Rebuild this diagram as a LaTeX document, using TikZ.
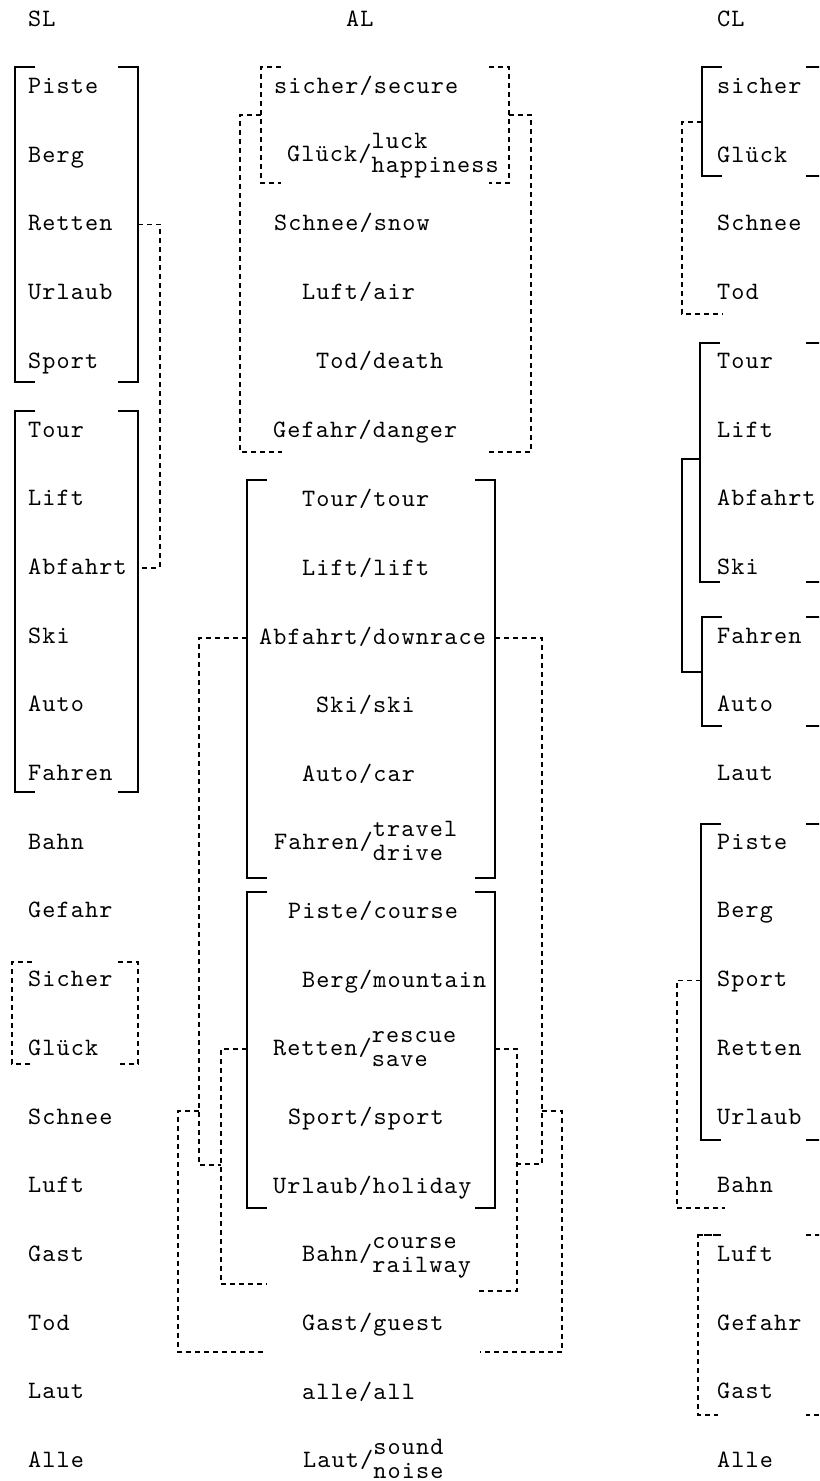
\documentclass[tikz,border=0pt]{standalone}
\usepackage{fontspec}
\setmonofont{lmmono10-regular.otf}[LetterSpace=4.5]
\tikzset{
  word/.style={anchor=west, inner sep=0pt, text height=17bp, text depth=4bp,
    font=\ttfamily\fontsize{25bp}{24bp}\selectfont},
  hard/.style={line width=1.6bp},
  soft/.style={line width=1.2bp, dash pattern=on 5bp off 4bp},
}
% two meanings stacked after the slash
\newcommand{\dual}[2]{\begin{tabular}[c]{@{}l@{}}#1\\#2\end{tabular}}
% bracket pair round a group: [style]{left x}{right x}{top y}{bottom y}
\newcommand{\grp}[5][hard]{%
  \draw[#1] ({#2+20},#4) -- (#2,#4) -- (#2,#5) -- ({#2+20},#5);
  \draw[#1] ({#3-20},#4) -- (#3,#4) -- (#3,#5) -- ({#3-20},#5);}

\begin{document}
\begin{tikzpicture}[x=1bp, y=-1bp]
    \useasboundingbox (0,0) rectangle (819,1481);
    \clip (0,0) rectangle (819,1481);
    % Column heads
    \node[word] (hSL) at (28,20) {SL};
    \node[word] (hAL) at (346,20) {AL};
    \node[word] (hCL) at (717,20) {CL};
    % SL column
    \foreach \w [count=\i] in {Piste,Berg,Retten,Urlaub,Sport,Tour,Lift,Abfahrt,Ski,Auto,Fahren,Bahn,Gefahr,Sicher,Glück,Schnee,Luft,Gast,Tod,Laut,Alle}
        \node[word] (sl\i) at (28,{87+68.7*(\i-1)}) {\w};
    \grp{15}{138}{67}{382}
    \grp{15}{138}{411}{792}
    \grp[soft]{12}{138}{962}{1064}
    \draw[soft] (138,0 |- sl3) -- (160,0 |- sl3) -- (160,0 |- sl8) -- (138,0 |- sl8);
    % AL column
    \node[word] (al1) at (274,87) {sicher/secure};
    \node[word] (al2) at (287,155) {Glück/\dual{luck}{happiness}};
    \node[word] (al3) at (274,224) {Schnee/snow};
    \node[word] (al4) at (302,293) {Luft/air};
    \node[word] (al5) at (316,362) {Tod/death};
    \node[word] (al6) at (273,431) {Gefahr/danger};
    \node[word] (al7) at (302,500) {Tour/tour};
    \node[word] (al8) at (302,569) {Lift/lift};
    \node[word] (al9) at (259,638) {Abfahrt/downrace};
    \node[word] (al10) at (316,706) {Ski/ski};
    \node[word] (al11) at (302,775) {Auto/car};
    \node[word] (al12) at (274,843) {Fahren/\dual{travel}{drive}};
    \node[word] (al13) at (288,912) {Piste/course};
    \node[word] (al14) at (302,981) {Berg/mountain};
    \node[word] (al15) at (273,1049) {Retten/\dual{rescue}{save}};
    \node[word] (al16) at (288,1118) {Sport/sport};
    \node[word] (al17) at (273,1187) {Urlaub/holiday};
    \node[word] (al18) at (302,1255) {Bahn/\dual{course}{railway}};
    \node[word] (al19) at (302,1324) {Gast/guest};
    \node[word] (al20) at (302,1393) {alle/all};
    \node[word] (al21) at (303,1461) {Laut/\dual{sound}{noise}};
    \grp[soft]{261}{509}{67}{183}
    \draw[soft] (261,115) -- (240,115) -- (240,452) -- (282,452);
    \draw[soft] (509,115) -- (531,115) -- (531,452) -- (489,452);
    \grp{247}{495}{480}{878}
    \grp{247}{495}{892}{1208}
    \draw[soft] (247,0 |- al9) -- (199,0 |- al9) -- (199,1165) -- (221,1165);
    \draw[soft] (495,0 |- al9) -- (542,0 |- al9) -- (542,1164) -- (517,1164);
    \draw[soft] (247,0 |- al15) -- (221,0 |- al15) -- (221,1284) -- (267,1284);
    \draw[soft] (495,0 |- al15) -- (517,0 |- al15) -- (517,1291) -- (475,1291);
    \draw[soft] (199,1111) -- (178,1111) -- (178,1352) -- (264,1352);
    \draw[soft] (542,1111) -- (562,1111) -- (562,1352) -- (480,1352);
    % CL column
    \foreach \w [count=\i] in {sicher,Glück,Schnee,Tod,Tour,Lift,Abfahrt,Ski,Fahren,Auto,Laut,Piste,Berg,Sport,Retten,Urlaub,Bahn,Luft,Gefahr,Gast,Alle}
        \node[word] (cl\i) at (717,{87+68.7*(\i-1)}) {\w};
    \grp{702}{826}{67}{176}
    \draw[soft] (702,122) -- (682,122) -- (682,314) -- (723,314);
    \grp{700}{826}{343}{582}
    \grp{702}{826}{617}{726}
    \draw[hard] (700,459) -- (682,459) -- (682,672) -- (702,672);
    \grp{701}{826}{824}{1140}
    \draw[soft] (701,0 |- cl14) -- (677,0 |- cl14) -- (677,1208) -- (725,1208);
    \draw[soft] (698,1235) -- (725,1235);
    \grp[soft]{698}{826}{1235}{1415}
\end{tikzpicture}
\end{document}
